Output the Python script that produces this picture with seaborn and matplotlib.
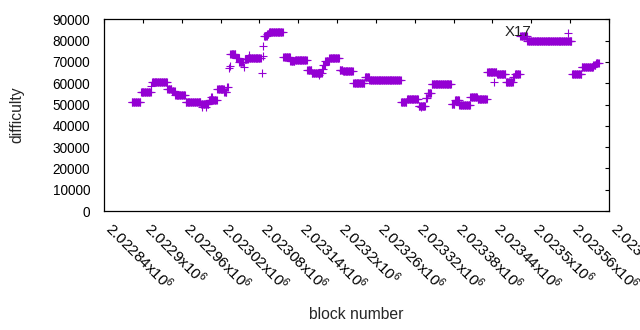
import matplotlib
matplotlib.use("Agg")
import numpy as np
import pandas as pd
import matplotlib.pyplot as plt
import seaborn as sns

# runs of blocks with the same difficulty: first block, last block, difficulty
run_first = [2022883, 2022897, 2022913, 2022914, 2022938, 2022945, 2022950, 2022966,
             2022990, 2023002, 2023015, 2023026, 2023030, 2023033, 2023034, 2023035,
             2023044, 2023049, 2023056, 2023057, 2023063, 2023084, 2023085, 2023086,
             2023087, 2023092, 2023095, 2023117, 2023128, 2023135, 2023154, 2023161,
             2023177, 2023179, 2023182, 2023188, 2023204, 2023209, 2023225, 2023243,
             2023250, 2023299, 2023308, 2023326, 2023337, 2023340, 2023346, 2023377,
             2023382, 2023389, 2023406, 2023417, 2023432, 2023447, 2023461, 2023472,
             2023475, 2023483, 2023494, 2023563, 2023578, 2023596, 2023600]
run_last = [2022896, 2022912, 2022913, 2022937, 2022944, 2022949, 2022965, 2022989,
            2023001, 2023014, 2023025, 2023029, 2023031, 2023033, 2023034, 2023043,
            2023048, 2023055, 2023056, 2023062, 2023082, 2023084, 2023085, 2023086,
            2023091, 2023094, 2023116, 2023127, 2023134, 2023153, 2023160, 2023176,
            2023178, 2023181, 2023187, 2023203, 2023208, 2023224, 2023242, 2023249,
            2023298, 2023307, 2023325, 2023336, 2023339, 2023345, 2023376, 2023381,
            2023388, 2023405, 2023416, 2023431, 2023446, 2023460, 2023471, 2023474,
            2023482, 2023493, 2023562, 2023577, 2023595, 2023599, 2023604]
run_diff = [51000, 56100, 58600, 60800, 57500, 56400, 54300, 51000,
            50200, 52300, 57400, 56100, 58300, 67300, 68200, 73800,
            72000, 69900, 67700, 71300, 71600, 64600, 72700, 77700,
            82000, 83200, 84000, 72100, 70500, 71100, 66000, 64800,
            66800, 68500, 70600, 71700, 66400, 65500, 60300, 63000,
            61700, 51000, 52800, 49300, 53200, 55600, 59400, 50300,
            52000, 49700, 53500, 52400, 65200, 64200, 60800, 62800,
            64500, 82000, 80000, 64500, 67400, 68500, 69600]

# single blocks off their run
odd_block = [2022992, 2022998, 2023006, 2023007, 2023064, 2023172, 2023329, 2023443, 2023556]
odd_diff = [49000, 49000, 53500, 53500, 73200, 64000, 48700, 60700, 83700]

xtick_values = [2022840, 2022900, 2022960, 2023020, 2023080, 2023140, 2023200,
                2023260, 2023320, 2023380, 2023440, 2023500, 2023560, 2023620]
xtick_labels = ["2.02284x10$^{6}$", "2.0229x10$^{6}$", "2.02296x10$^{6}$",
                "2.02302x10$^{6}$", "2.02308x10$^{6}$", "2.02314x10$^{6}$",
                "2.0232x10$^{6}$", "2.02326x10$^{6}$", "2.02332x10$^{6}$",
                "2.02338x10$^{6}$", "2.02344x10$^{6}$", "2.0235x10$^{6}$",
                "2.02356x10$^{6}$", "2.02362x10$^{6}$"]
ytick_values = [0, 10000, 20000, 30000, 40000, 50000, 60000, 70000, 80000, 90000]

note_text = "X17"
note_block = 2023500
note_diff = 84000

rows = []
for a, b, d in zip(run_first, run_last, run_diff):
    for blk in range(a, b + 1):
        rows.append({"block": blk, "difficulty": d})
for blk, d in zip(odd_block, odd_diff):
    rows.append({"block": blk, "difficulty": d})
df = pd.DataFrame(rows)

sns.set_style("white")
plt.rcParams["font.family"] = ["Liberation Sans", "DejaVu Sans"]
plt.rcParams["mathtext.fontset"] = "custom"
plt.rcParams["mathtext.rm"] = "Liberation Sans"
plt.rcParams["mathtext.it"] = "Liberation Sans:italic"

fig = plt.figure(figsize=(6.4, 3.3), dpi=100)
ax = fig.add_axes([0.1625, 0.3606, 0.7891, 0.5809])

sns.scatterplot(data=df, x="block", y="difficulty", marker="+", s=30,
                color="#9400d3", linewidth=0.8, legend=False, ax=ax)

ax.set_xlim(xtick_values[0], xtick_values[-1])
ax.set_ylim(ytick_values[0], ytick_values[-1])
ax.set_xticks(xtick_values)
ax.set_xticklabels(xtick_labels, rotation=-45, ha="left", va="baseline",
                   rotation_mode="anchor", fontsize=11)
ax.set_yticks(ytick_values)
ax.set_yticklabels([str(v) for v in ytick_values], fontsize=9.8)

for s in ax.spines.values():
    s.set_visible(True)
    s.set_color("black")
    s.set_linewidth(0.9)
ax.tick_params(direction="in", length=3, width=0.8, top=True, right=True,
               colors="black")
ax.tick_params(axis="y", pad=10)
ax.tick_params(axis="x", pad=13.5)

ax.text(note_block, note_diff, note_text, ha="right", va="center", fontsize=10.8,
        color="#222222")

ax.set_xlabel("block number", fontsize=11.3)
ax.set_ylabel("difficulty", fontsize=11.3)
ax.xaxis.label.set_va("center")
ax.yaxis.label.set_va("center")
ax.xaxis.set_label_coords(0.5, -0.542)
ax.yaxis.set_label_coords(-0.172, 0.5)

fig.savefig("out.png", dpi=100)
